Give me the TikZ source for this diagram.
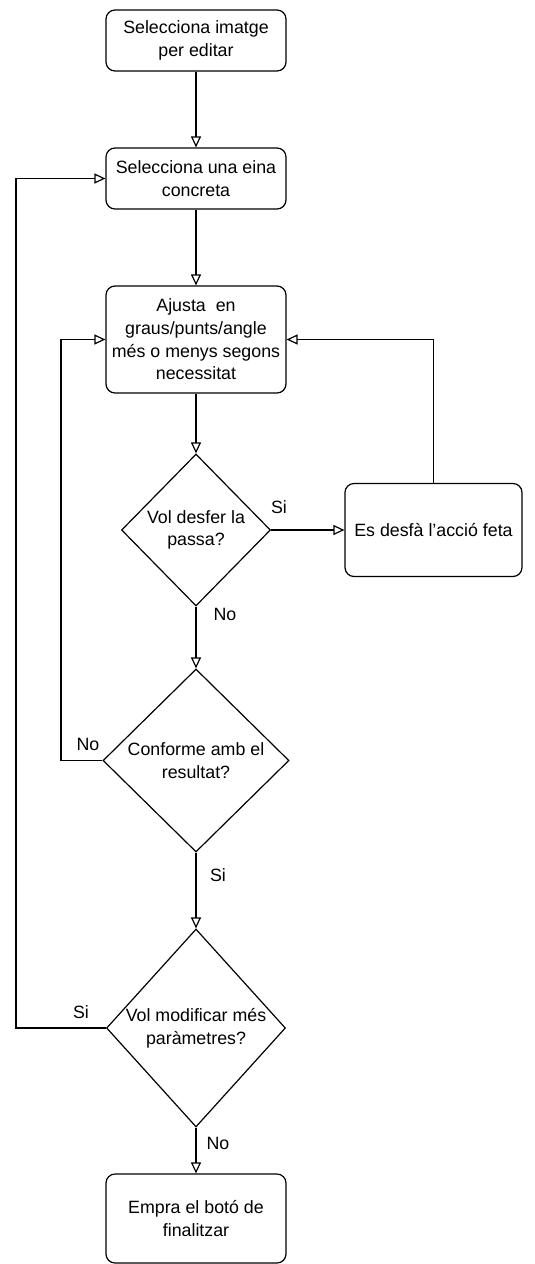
\documentclass[tikz,border=0pt]{standalone}
\usepackage{fontspec}
\setmainfont{Liberation Sans}
\usetikzlibrary{shapes.geometric,arrows.meta}
\tikzstyle{stepbox}=[draw,rounded corners=9pt,line width=1.2pt,align=center,minimum width=180pt,inner sep=0pt]
\tikzstyle{choice}=[draw,diamond,aspect=1,line width=1.2pt,align=center,inner sep=-3pt]
\tikzstyle{lbl}=[inner sep=0pt]
\tikzstyle{flow}=[line width=1.2pt,-{Triangle[open,length=11pt,width=10pt]}]

\begin{document}
\begin{tikzpicture}[x=1pt,y=-1pt,font=\fontsize{17.8}{22.7}\selectfont]
    \useasboundingbox (0,0) rectangle (535,1264);
    \node[stepbox,minimum height=61pt] (b1) at (196,40.5) {Selecciona imatge\\per editar};
    \node[stepbox,minimum height=61pt] (b2) at (196,178.5) {Selecciona una eina\\concreta};
    \node[stepbox,minimum height=107pt] (b3) at (196,339.5) {Ajusta\ \ en\\graus/punts/angle\\més o menys segons\\necessitat};
    \node[choice,minimum width=149pt,minimum height=152pt] (d1) at (196,530) {Vol desfer la\\passa?};
    \node[stepbox,minimum width=177pt,minimum height=93pt] (b4) at (433.5,530) {Es desfà l'acció feta};
    \node[choice,minimum width=186pt,minimum height=183pt] (d2) at (196,760.5) {Conforme amb el\\resultat?};
    \node[choice,minimum width=179pt,minimum height=198pt] (d3) at (196,1028) {Vol modificar més\\paràmetres?};
    \node[stepbox,minimum height=89pt] (b5) at (196,1218.5) {Empra el botó de\\finalitzar};

    \node[lbl] (si1) at (279,507) {Si};
    \node[lbl] (no1) at (225,614) {No};
    \node[lbl] (no2) at (88,744) {No};
    \node[lbl] (si2) at (218,875) {Si};
    \node[lbl] (si3) at (81,1012) {Si};
    \node[lbl] (no3) at (218,1143) {No};

    \coordinate (inl) at (61,760.5);
    \coordinate (outl) at (16,1028);

    \foreach \from/\to in {b1/b2,b2/b3,b3/d1,d1/d2,d2/d3,d3/b5}
    \draw[flow] (\from) -- (\to);
    \draw[flow] (d1.east) -- (b4.west);
    \draw[flow] (b4.north) |- (b3.east);
    \draw[flow] (d2.west) -- (inl) |- (b3.west);
    \draw[flow] (d3.west) -- (outl) |- (b2.west);
\end{tikzpicture}
\end{document}
